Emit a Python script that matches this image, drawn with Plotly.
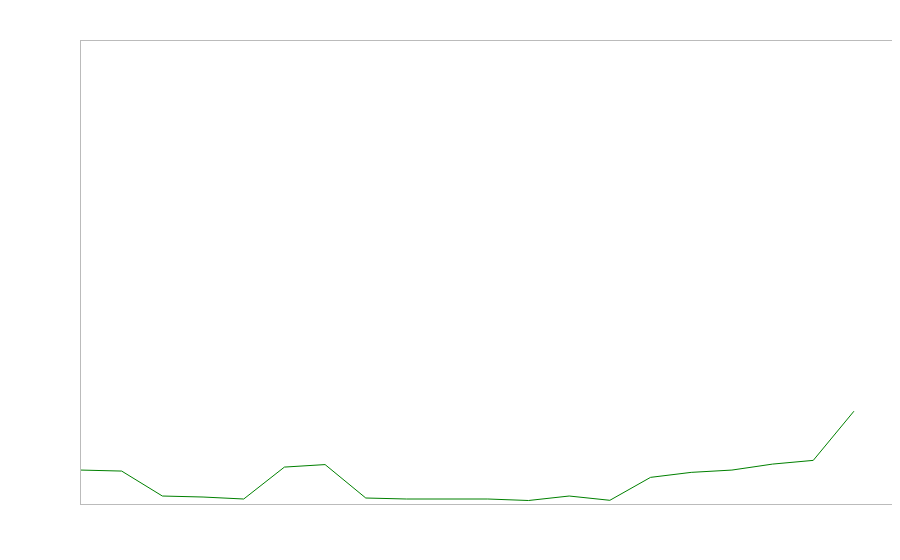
import plotly.graph_objects as go

# Series (index positions, arbitrary units)
steps = list(range(20))
values = [34, 33, 8, 7, 5, 37, 39.5, 6, 5, 5, 5, 3.5, 8, 3.7, 26.7, 31.7,
          34, 40, 43.7, 93]

fig = go.Figure()
fig.add_trace(go.Scatter(x=steps, y=values, mode='lines',
                         line=dict(color='green', width=1)))

axis_style = dict(showgrid=False, zeroline=False, showticklabels=False,
                  ticks='', showline=True, linecolor='#bbbbbb',
                  linewidth=1, mirror=True)

# page body adds an 8px margin, so the plot margins are trimmed by that
fig.update_layout(
    width=900, height=560,
    margin=dict(l=73, r=15, t=33, b=64),
    paper_bgcolor='white', plot_bgcolor='white',
    showlegend=False,
    xaxis=dict(range=[0, 19.96], **axis_style),
    yaxis=dict(range=[0, 464], **axis_style),
)

fig.write_html("out.html")
